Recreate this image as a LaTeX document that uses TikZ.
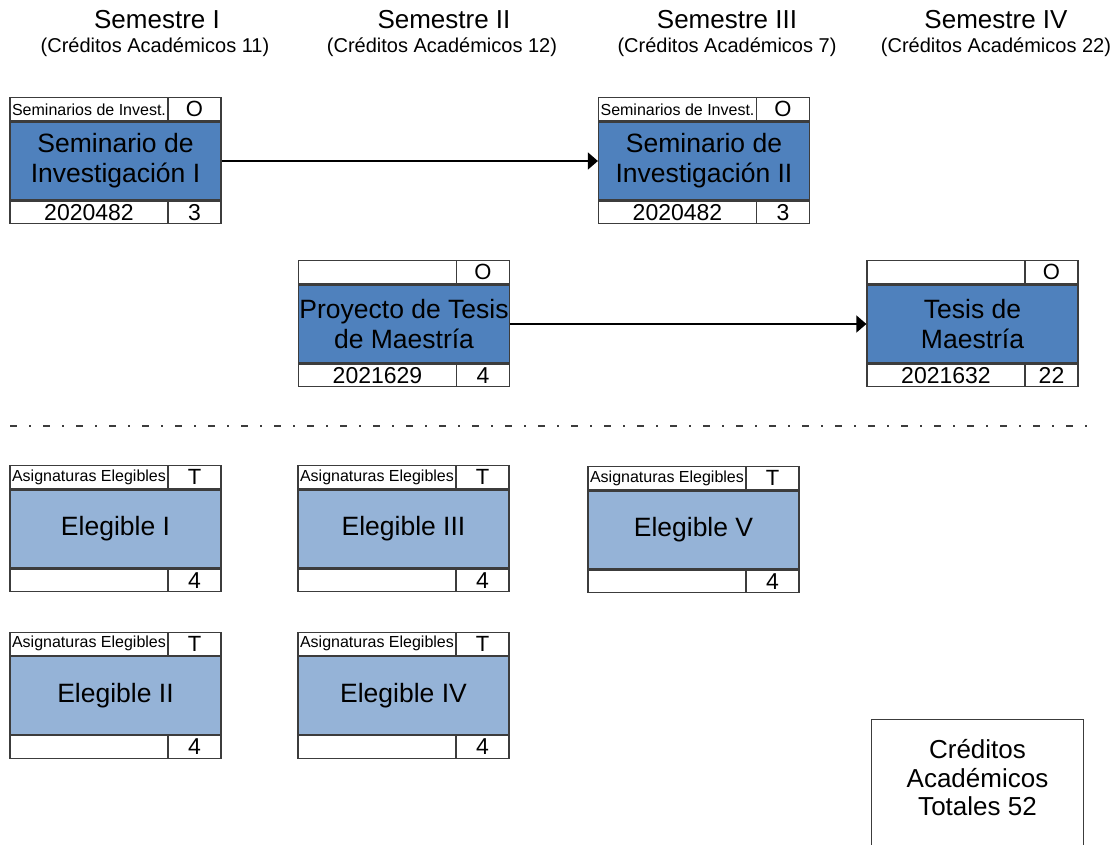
\documentclass[tikz,border=0pt]{standalone}
\usepackage{fontspec}
\setmainfont{Liberation Sans}
\usepackage{tikz}
\usetikzlibrary{positioning}
\usetikzlibrary{arrows.meta}
\definecolor{azul}{RGB}{79,129,189}
\definecolor{azulclaro}{RGB}{149,179,215}
\definecolor{borde}{RGB}{60,60,60}
\tikzstyle{celda} = [draw=borde, line width=1.2pt, inner sep=0pt]
\tikzstyle{titulo} = [celda, minimum width=211pt, minimum height=78pt, align=center, font=\fontsize{26.5}{30}\selectfont]
\tikzstyle{tipo} = [celda, minimum width=158pt, minimum height=23pt, font=\fontsize{16}{18}\selectfont]
\tikzstyle{marca} = [celda, minimum width=53pt, minimum height=23pt, font=\fontsize{22}{24}\selectfont]
\tikzstyle{codigo} = [celda, minimum width=158pt, minimum height=22.5pt, font=\fontsize{23}{25}\selectfont]
\tikzstyle{credito} = [celda, minimum width=53pt, minimum height=22.5pt, font=\fontsize{23}{25}\selectfont]
\tikzstyle{semestre} = [font=\fontsize{26}{30}\selectfont]
\tikzstyle{creditos} = [font=\fontsize{20}{24}\selectfont]
\tikzstyle{arrow} = [line width=1.2pt,-{Triangle[length=10pt,width=17pt]}]

% a course box: name, fill, position, type, mark, title, code, credits
\newcommand{\curso}[8]{%
  \node[titulo, fill=#2] (#1) at (#3) {#6};
  \node[tipo, anchor=south west] (#1-tipo) at (#1.north west) {#4};
  \node[marca, anchor=south east] (#1-marca) at (#1.north east) {#5};
  \node[codigo, anchor=north west] (#1-codigo) at (#1.south west) {#7};
  \node[credito, anchor=north east] (#1-cred) at (#1.south east) {#8};
}

\begin{document}
\begin{tikzpicture}[x=1pt, y=-1pt]
  \useasboundingbox (0,0) rectangle (1117,844);

  % semesters
  \node[semestre] (semI) at (157,20) {Semestre I};
  \node[creditos] (credI) at (155,47.5) {(Créditos Académicos 11)};
  \node[semestre] (semII) at (444,20) {Semestre II};
  \node[creditos] (credII) at (442,47.5) {(Créditos Académicos 12)};
  \node[semestre] (semIII) at (727,20) {Semestre III};
  \node[creditos] (credIII) at (727,47.5) {(Créditos Académicos 7)};
  \node[semestre] (semIV) at (996,20) {Semestre IV};
  \node[creditos] (credIV) at (996,47.5) {(Créditos Académicos 22)};

  % compulsory courses
  \curso{seminarioI}{azul}{115.5,161}{Seminarios de Invest.}{O}{Seminario de\\Investigación I}{2020482}{3}
  \curso{seminarioII}{azul}{704,161}{Seminarios de Invest.}{O}{Seminario de\\Investigación II}{2020482}{3}
  \curso{proyecto}{azul}{404,324}{}{O}{Proyecto de Tesis\\de Maestría}{2021629}{4}
  \curso{tesis}{azul}{972.5,324}{}{O}{Tesis de\\Maestría}{2021632}{22}

  % separator
  \draw[borde, line width=2pt, dash pattern=on 7pt off 12pt on 2pt off 12pt] (10,426) -- (1092,426);

  % elective courses
  \curso{elegibleI}{azulclaro}{115.5,529}{Asignaturas Elegibles}{T}{Elegible I}{}{4}
  \curso{elegibleIII}{azulclaro}{403.5,529}{Asignaturas Elegibles}{T}{Elegible III}{}{4}
  \curso{elegibleV}{azulclaro}{693.5,530}{Asignaturas Elegibles}{T}{Elegible V}{}{4}
  \curso{elegibleII}{azulclaro}{115.5,695.5}{Asignaturas Elegibles}{T}{Elegible II}{}{4}
  \curso{elegibleIV}{azulclaro}{403.5,695.5}{Asignaturas Elegibles}{T}{Elegible IV}{}{4}

  % total
  \node[align=center, minimum width=211pt, minimum height=116pt, font=\fontsize{26}{28.5}\selectfont] (total) at (977.5,778) {Créditos\\Académicos\\Totales 52};
  \draw[borde, line width=1.2pt] ([yshift=-20pt]total.south west) -- (total.north west) -- (total.north east) -- ([yshift=-20pt]total.south east);

  %arrows
  \draw[arrow] (seminarioI) -- (seminarioII);
  \draw[arrow] (proyecto) -- (tesis);
\end{tikzpicture}
\end{document}
